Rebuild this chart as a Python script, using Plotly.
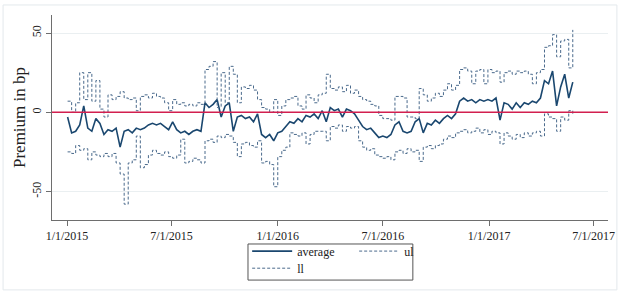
import pandas as pd
import plotly.graph_objects as go

# weekly observations starting 2 Jan 2015
start_date = "2015-01-02"
n_weeks = 126

average = [-3, -13, -12, -8, 4, -10, -12, -4, -7, -14, -11, -12, -10, -22, -12, -11, -13, -10, -11, -10,
           -8, -7, -8, -7, -9, -11, -6, -11, -13, -12, -14, -12, -11, -12, 6, 3, 5, 8, -3, 4,
           6, -12, -3, -2, -4, -3, -6, -1, -14, -16, -14, -18, -13, -12, -9, -6, -7, -4, -6, -2,
           -3, -1, -4, 1, -6, 3, 1, 2, -3, 2, 1, -1, -5, -9, -11, -10, -13, -16, -15, -16,
           -14, -8, -6, -12, -13, -12, -6, -4, -13, -7, -8, -5, -7, -4, -2, -4, -1, 7, 9, 7,
           8, 6, 8, 7, 8, 7, 9, -5, 6, 5, 2, 6, 3, 6, 5, 7, 6, 9, 20, 18,
           26, 4, 16, 24, 9, 19]

ul = [7, 0, 6, 25, 8, 25, 7, 20, 2, -3, 11, 8, 10, 13, 9, 8, 9, 1, 10, 11,
      9, 12, 10, 9, 6, 1, 8, 5, 6, 4, 5, 4, 6, 5, 27, 29, 32, 3, 25, 6,
      29, 24, 6, 16, 15, 17, 14, 8, 3, 2, 0, 8, -2, 4, 8, 9, 10, 4, 2, 11,
      9, 6, 11, 12, 24, 15, 14, 16, 13, 17, 12, 14, 10, 8, 7, 5, 4, -2, -4, -4,
      -5, 10, 10, 9, -3, -3, -4, 15, 11, 7, 9, 12, 10, 14, 18, 14, 17, 27, 28, 26,
      18, 26, 27, 18, 27, 25, 26, 19, 25, 26, 24, 26, 25, 26, 24, 18, 25, 27, 41, 42,
      49, 35, 45, 46, 28, 52]

ll = [-25, -26, -21, -24, -23, -30, -25, -27, -28, -26, -28, -26, -32, -39, -58, -32, -30, -15, -35, -33,
      -27, -24, -26, -27, -25, -28, -29, -27, -17, -32, -31, -29, -30, -32, -18, -17, -19, -15, -16, -14,
      -15, -19, -28, -20, -19, -21, -22, -18, -32, -31, -33, -47, -28, -24, -22, -13, -14, -15, -13, -20,
      -14, -12, -12, -12, -18, -9, -10, -8, -12, -9, -10, -9, -18, -22, -24, -23, -27, -28, -29, -28,
      -30, -25, -24, -26, -23, -25, -24, -31, -22, -21, -23, -21, -20, -17, -15, -16, -13, -12, -11, -13,
      -12, -10, -13, -11, -14, -12, -13, -20, -13, -15, -17, -14, -16, -13, -15, -13, -12, -15, -1, -3,
      -4, -12, -3, -5, 1, -2]

tick_dates = ["2015-01-01", "2015-07-01", "2016-01-01", "2016-07-01", "2017-01-01", "2017-07-01"]
tick_labels = ["1/1/2015", "7/1/2015", "1/1/2016", "7/1/2016", "1/1/2017", "7/1/2017"]
y_ticks = [-50, 0, 50]

dates = pd.date_range(start_date, periods=n_weeks, freq="7D")

font_family = "Liberation Serif, Times New Roman, serif"
navy = "#1a476f"
dash_col = "#4a6a8c"

fig = go.Figure()
fig.add_trace(go.Scatter(x=dates, y=average, mode="lines", name="average",
                         line=dict(color=navy, width=1.6), legend="legend"))
fig.add_trace(go.Scatter(x=dates, y=ul, mode="lines", name="ul",
                         line=dict(color=dash_col, width=1, dash="3px,2px", shape="hv"), legend="legend"))
fig.add_trace(go.Scatter(x=dates, y=ll, mode="lines", name="ll",
                         line=dict(color=dash_col, width=1, dash="3px,2px", shape="hv"), legend="legend2"))

fig.add_hline(y=0, line=dict(color="#d21f4f", width=1.3))

# legend frame and outer graph frame
fig.add_shape(type="rect", xref="paper", yref="paper", x0=0.3525, x1=0.649, y0=-0.293, y1=-0.117,
              line=dict(color="#555555", width=1), fillcolor="rgba(0,0,0,0)", layer="above")
fig.add_shape(type="rect", xref="paper", yref="paper", x0=-0.088, x1=1.016, y0=-0.341, y1=1.049,
              line=dict(color="#e3e9ec", width=1), fillcolor="rgba(0,0,0,0)", layer="below")

legend_common = dict(orientation="h", xref="container", yref="container", xanchor="left", yanchor="top",
                     entrywidth=52, entrywidthmode="pixels", font=dict(size=12),
                     bgcolor="rgba(0,0,0,0)", itemwidth=40)

fig.update_layout(
    width=621, height=295,
    margin=dict(l=52, r=13, t=15, b=75, autoexpand=False),
    paper_bgcolor="white", plot_bgcolor="white",
    font=dict(family=font_family, size=12, color="#222222"),
    showlegend=True,
    legend=dict(x=0.398, y=0.198, **legend_common),
    legend2=dict(x=0.398, y=0.140, **legend_common),
    xaxis=dict(type="date", range=["2014-12-06", "2017-07-26"],
               tickvals=tick_dates, ticktext=tick_labels,
               showgrid=False, zeroline=False, showline=True, linecolor="#6e6e6e", linewidth=1,
               ticks="outside", ticklen=5, tickcolor="#6e6e6e",
               tickfont=dict(family=font_family, size=12, color="#222222")),
    yaxis=dict(range=[-68, 61.4], tickvals=y_ticks, ticktext=["-50", "0", "50"],
               tickangle=-90, showgrid=True, gridcolor="#eaeff1", gridwidth=1,
               zeroline=False, showline=True, linecolor="#6e6e6e", linewidth=1,
               ticks="outside", ticklen=5, tickcolor="#6e6e6e",
               tickfont=dict(family=font_family, size=12, color="#222222"),
               title=dict(text="Premium in bp", font=dict(family=font_family, size=17, color="#222222"),
                          standoff=0)),
)

fig.write_html("out.html")
